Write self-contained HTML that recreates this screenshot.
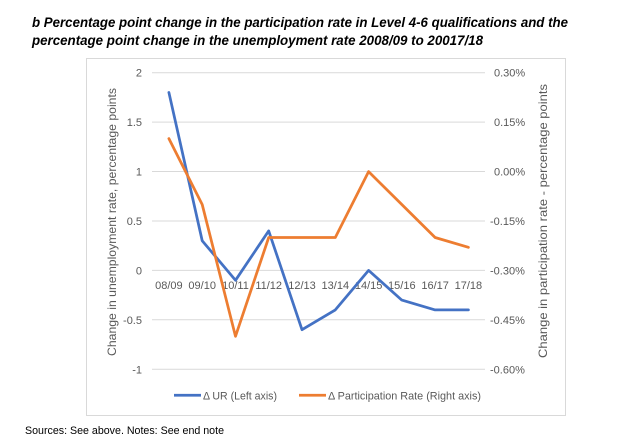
<!DOCTYPE html>
<html>
<head>
<meta charset="utf-8">
<style>
  html,body{margin:0;padding:0;background:#fff;}
  svg{display:block;}
</style>
</head>
<body>
<svg width="642" height="443" viewBox="0 0 642 443" xmlns="http://www.w3.org/2000/svg">
  <rect x="0" y="0" width="642" height="443" fill="#ffffff"/>
  <!-- Title -->
  <g font-family="'Liberation Sans Narrow','Liberation Sans',sans-serif" font-weight="bold" font-style="italic" font-size="13.5" fill="#000">
    <text x="32" y="27" textLength="536" lengthAdjust="spacingAndGlyphs">b Percentage point change in the participation rate in Level 4-6 qualifications and the</text>
    <text x="32" y="45" textLength="451" lengthAdjust="spacingAndGlyphs">percentage point change in the unemployment rate 2008/09 to 20017/18</text>
  </g>
  <!-- Chart border -->
  <rect x="86.5" y="58.5" width="479" height="357" fill="#fff" stroke="#D9D9D9" stroke-width="1"/>
  <!-- Gridlines -->
  <g stroke="#D9D9D9" stroke-width="1">
    <line x1="152" y1="72.7" x2="485" y2="72.7"/>
    <line x1="152" y1="122.1" x2="485" y2="122.1"/>
    <line x1="152" y1="171.5" x2="485" y2="171.5"/>
    <line x1="152" y1="221.0" x2="485" y2="221.0"/>
    <line x1="152" y1="270.4" x2="485" y2="270.4"/>
    <line x1="152" y1="319.8" x2="485" y2="319.8"/>
    <line x1="152" y1="369.3" x2="485" y2="369.3"/>
  </g>
  <!-- Left tick labels -->
  <g font-family="'Liberation Sans',sans-serif" font-size="11" fill="#595959" text-anchor="end">
    <text x="142" y="76.5">2</text>
    <text x="142" y="126">1.5</text>
    <text x="142" y="175.5">1</text>
    <text x="142" y="225">0.5</text>
    <text x="142" y="274.5">0</text>
    <text x="142" y="324">-0.5</text>
    <text x="142" y="373.5">-1</text>
  </g>
  <!-- Right tick labels -->
  <g font-family="'Liberation Sans',sans-serif" font-size="11" fill="#595959">
    <text x="494" y="76.5">0.30%</text>
    <text x="494" y="126">0.15%</text>
    <text x="494" y="175.5">0.00%</text>
    <text x="490" y="225">-0.15%</text>
    <text x="490" y="274.5">-0.30%</text>
    <text x="490" y="324">-0.45%</text>
    <text x="490" y="373.5">-0.60%</text>
  </g>
  <!-- Axis titles -->
  <g font-family="'Liberation Sans',sans-serif" font-size="12" fill="#595959" text-anchor="middle">
    <text transform="translate(116,222) rotate(-90)" textLength="268" lengthAdjust="spacingAndGlyphs">Change in unemployment rate, percentage points</text>
    <text transform="translate(547,221) rotate(-90)" textLength="274" lengthAdjust="spacingAndGlyphs">Change in participation rate - percentage points</text>
  </g>
  <!-- X category labels -->
  <g font-family="'Liberation Sans',sans-serif" font-size="11" fill="#595959" text-anchor="middle">
    <text x="168.9" y="289">08/09</text>
    <text x="202.2" y="289">09/10</text>
    <text x="235.5" y="289">10/11</text>
    <text x="268.7" y="289">11/12</text>
    <text x="302.0" y="289">12/13</text>
    <text x="335.3" y="289">13/14</text>
    <text x="368.6" y="289">14/15</text>
    <text x="401.8" y="289">15/16</text>
    <text x="435.1" y="289">16/17</text>
    <text x="468.4" y="289">17/18</text>
  </g>
  <!-- Series: UR (blue) -->
  <polyline fill="none" stroke="#4472C4" stroke-width="2.75" stroke-linejoin="round" stroke-linecap="round"
    points="168.9,92.5 202.2,240.7 235.5,280.3 268.7,230.9 302.0,329.7 335.3,309.9 368.6,270.4 401.8,300.1 435.1,309.9 468.4,309.9"/>
  <!-- Series: Participation (orange) -->
  <polyline fill="none" stroke="#ED7D31" stroke-width="2.75" stroke-linejoin="round" stroke-linecap="round"
    points="168.9,138.6 202.2,204.5 235.5,336.3 268.7,237.5 302.0,237.5 335.3,237.5 368.6,171.6 401.8,204.5 435.1,237.5 468.4,247.3"/>
  <!-- Legend -->
  <line x1="174" y1="395.3" x2="201" y2="395.3" stroke="#4472C4" stroke-width="2.75"/>
  <line x1="299" y1="395.3" x2="326" y2="395.3" stroke="#ED7D31" stroke-width="2.75"/>
  <g font-family="'Liberation Sans',sans-serif" font-size="11" fill="#595959">
    <text x="203" y="399.3" textLength="74" lengthAdjust="spacingAndGlyphs">Δ UR (Left axis)</text>
    <text x="328" y="399.3" textLength="153" lengthAdjust="spacingAndGlyphs">Δ Participation Rate (Right axis)</text>
  </g>
  <!-- Footer -->
  <text x="25" y="434" font-family="'Liberation Sans',sans-serif" font-size="11" fill="#000" textLength="199" lengthAdjust="spacingAndGlyphs">Sources: See above. Notes: See end note</text>
</svg>
</body>
</html>
